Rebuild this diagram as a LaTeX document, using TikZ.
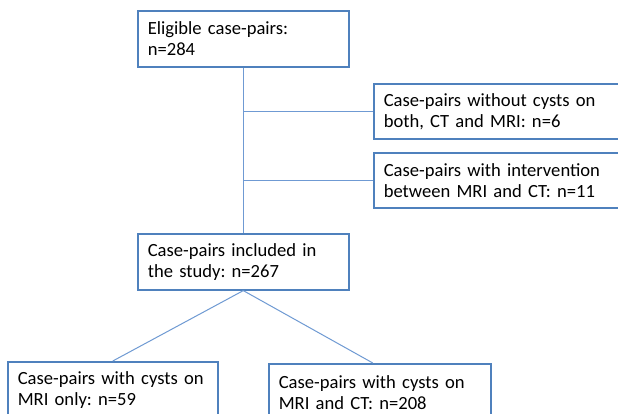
\documentclass[tikz,border=0pt]{standalone}
\usepackage{fontspec}
\setmainfont{Carlito}
\frenchspacing
\definecolor{boxblue}{HTML}{4F81BD}
\definecolor{linkblue}{HTML}{6F9AD3}
\begin{document}
\begin{tikzpicture}[x=1pt,y=-1pt,
  flowbox/.style={draw=boxblue, line width=1.6pt, anchor=north west, fill=white,
    align=left, inner xsep=10pt, inner ysep=0pt,
    font=\fontsize{18.6}{21}\selectfont},
  link/.style={draw=linkblue, line width=1pt}]
\clip (0,0) rectangle (618,414);
\fill[white] (0,0) rectangle (618,414);
\node[flowbox, minimum width=211pt, minimum height=56pt, text width=191pt] (b1) at (137,10)
  {Eligible case-pairs:\\n=284};
\node[flowbox, minimum width=255pt, minimum height=55pt, text width=235pt] (b2) at (373,83)
  {Case-pairs without cysts on\\both, CT and MRI: n=6};
\node[flowbox, minimum width=255pt, minimum height=55pt, text width=235pt] (b3) at (373,152)
  {Case-pairs with intervention\\between MRI and CT: n=11};
\node[flowbox, minimum width=211pt, minimum height=56pt, text width=191pt] (b4) at (137,233)
  {Case-pairs included in\\the study: n=267};
\node[flowbox, minimum width=210pt, minimum height=57pt, text width=190pt] (b5) at (7,361)
  {Case-pairs with cysts on\\MRI only: n=59};
\node[flowbox, minimum width=222pt, minimum height=57pt, text width=202pt] (b6) at (268,363)
  {Case-pairs with cysts on\\MRI and CT: n=208};
\draw[link] (b1.south) -- (b4.north);
\draw[link] (b2.west) -- (b2.west -| b1.south);
\draw[link] (b3.west) -- (b3.west -| b1.south);
\draw[link] (b4.south) -- (b5.north);
\draw[link] (b4.south) -- ([xshift=-7pt]b6.north);
\end{tikzpicture}
\end{document}
